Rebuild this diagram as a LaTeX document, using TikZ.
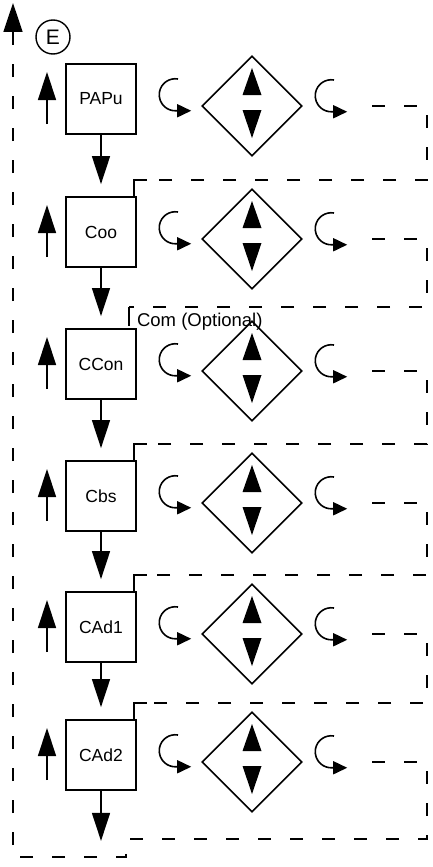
\documentclass[tikz,border=0pt]{standalone}
\usepackage{fontspec}
\setmainfont{Liberation Sans}
\usetikzlibrary{shapes.geometric,arrows.meta}

\begin{document}
\begin{tikzpicture}[x=1pt,y=1pt,
    unit/.style={draw, line width=1.8pt, minimum width=70pt, minimum height=70pt, font=\fontsize{17.5}{20}\selectfont},
    gate/.style={diamond, draw, line width=1.6pt, minimum width=100pt, minimum height=100pt},
    flow/.style={line width=1.4pt, -{Triangle[length=28pt,width=18pt]}},
    curl/.style={line width=1.6pt, -{Triangle[length=14pt,width=13pt]}},
    ret/.style={line width=1.6pt, dash pattern=on 13pt off 19pt}]
        \tikzstyle{every node}+=[inner sep=0pt]
        \useasboundingbox (0,0) rectangle (433,-867);
        % loop back
        \coordinate (top) at (13,-3);
        \coordinate (corner) at (13,-857);
        \node [circle, draw, line width=1.4pt, minimum size=34pt, font=\fontsize{21}{24}\selectfont] (e) at (53,-37) {E};
        % units
        \foreach \name/\txt/\y in {papu/PAPu/99, coo/Coo/232, ccon/CCon/364, cbs/Cbs/496, cad1/CAd1/627, cad2/CAd2/755} {
            \node [unit] (\name) at (101,-\y) {\txt};
            \node [gate] (g\name) at (252,-\y-7) {};
            \draw [flow] ([shift={(-54,-25)}]\name.center) -- ([shift={(-54,27)}]\name.center);
            \begin{scope}[shift={(g\name.center)}]
                \fill (0,38) -- (9.5,11) -- (-9.5,11) -- cycle;
                \fill (0,-32) -- (9.5,-4) -- (-9.5,-4) -- cycle;
                \draw [curl] (-74,27) arc [start angle=80, end angle=270, radius=16] -- ++(16,0);
                \draw [curl] (82,26) arc [start angle=80, end angle=270, radius=16] -- ++(16,0);
            \end{scope}
        }
        % chain
        \draw [flow] (papu) -- ([yshift=12pt]coo.north);
        \draw [flow] (coo) -- ([yshift=12pt]ccon.north);
        \draw [flow] (ccon) -- ([yshift=12pt]cbs.north);
        \draw [flow] (cbs) -- ([yshift=12pt]cad1.north);
        \draw [flow] (cad1) -- ([yshift=12pt]cad2.north);
        \draw [flow] (cad2.south) -- ++(0,-50);
        % returns
        \foreach \a/\b in {papu/coo, ccon/cbs, cbs/cad1, cad1/cad2} {
            \draw [ret] ([xshift=120pt]g\a.center) -- ([xshift=175pt]g\a.center) |- ([shift={(-3pt,16pt)}]\b.north east) -- ([xshift=-3pt]\b.north east);
            \draw [line width=1.6pt] ([xshift=-3pt]\b.north east) |- ++(13pt,16pt);
        }
        \draw [ret] ([xshift=120pt]gcoo.center) -- ([xshift=175pt]gcoo.center) |- ([shift={(-8pt,21pt)}]ccon.north east) coordinate (opt);
        \draw [line width=1.4pt] (opt) -- ++(0,-19pt);
        \node [anchor=base west, font=\fontsize{18.5}{21}\selectfont] (com) at ([shift={(8pt,-19pt)}]opt) {Com (Optional)};
        \draw [ret, -{Triangle[length=29pt,width=19pt]}] ([xshift=120pt]gcad2.center) -- ([xshift=175pt]gcad2.center) |- ([shift={(-11pt,-48pt)}]cad2.south east) |- (corner) -- (top);
\end{tikzpicture}
\end{document}
